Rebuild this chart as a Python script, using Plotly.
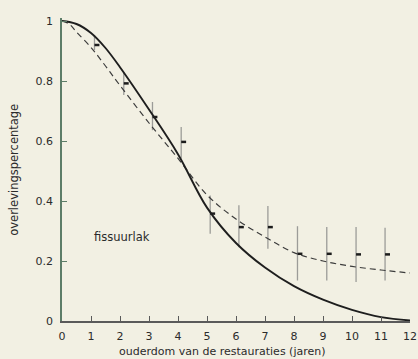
import plotly.graph_objects as go

# ---- data ----
# solid curve (fitted survival curve)
solid_t = [0, 0.5, 1, 1.5, 2, 3, 4, 5, 6, 7, 8, 9, 10, 11, 12]
solid_s = [1.0, 0.99, 0.96, 0.91, 0.846, 0.705, 0.556, 0.378, 0.26, 0.178, 0.116, 0.071, 0.037, 0.013, 0.002]

# dashed curve
dashed_t = [0, 0.25, 0.5, 1, 1.5, 2, 3, 4, 5, 6, 7, 8, 9, 10, 11, 12]
dashed_s = [1.0, 0.99, 0.963, 0.912, 0.85, 0.785, 0.66, 0.542, 0.42, 0.34, 0.28, 0.228, 0.2, 0.182, 0.17, 0.16]

# observed points with ranges
bar_x = [1.12, 2.13, 3.12, 4.11, 5.11, 6.1, 7.1, 8.12, 9.13, 10.14, 11.14]
bar_y = [0.92, 0.792, 0.68, 0.597, 0.358, 0.313, 0.313, 0.224, 0.224, 0.222, 0.222]
bar_hi = [0.953, 0.828, 0.73, 0.647, 0.418, 0.386, 0.383, 0.316, 0.313, 0.313, 0.311]
bar_lo = [0.903, 0.753, 0.636, 0.542, 0.291, 0.246, 0.241, 0.135, 0.135, 0.13, 0.135]

x_ticks = list(range(0, 13))
y_ticks = [0, 0.2, 0.4, 0.6, 0.8, 1]
y_ticktext = ["0", "0.2", "0.4", "0.6", "0.8", "1"]

series_label = "fissuurlak"
x_title = "ouderdom van de restauraties (jaren)"
y_title = "overlevingspercentage"

# ---- styles ----
BG = "#f2f0e3"
FONT = "DejaVu Sans"
TXT = "#2b2b2b"
DASH_LEN = 0.17

fig = go.Figure()

fig.add_trace(go.Scatter(
    x=bar_x, y=bar_y, mode="markers",
    marker=dict(size=1, opacity=0),
    error_y=dict(type="data", symmetric=False,
                 array=[h - y for h, y in zip(bar_hi, bar_y)],
                 arrayminus=[y - l for l, y in zip(bar_lo, bar_y)],
                 color="#9c9c98", thickness=1.3, width=0),
    error_x=dict(type="data", symmetric=False,
                 array=[DASH_LEN] * len(bar_x),
                 arrayminus=[0] * len(bar_x),
                 color="#1c1c1c", thickness=2.5, width=0),
    hoverinfo="skip", showlegend=False,
))

fig.add_trace(go.Scatter(
    x=dashed_t, y=dashed_s, mode="lines",
    line=dict(color="#3c3c3c", width=1.2, dash="6px,4px", shape="spline", smoothing=1.0),
    showlegend=False,
))

fig.add_trace(go.Scatter(
    x=solid_t, y=solid_s, mode="lines",
    line=dict(color="#1e1e1e", width=1.9, shape="spline", smoothing=1.0),
    showlegend=False,
))

fig.update_layout(
    width=418, height=359,
    margin=dict(l=62, r=1, t=18, b=38),
    paper_bgcolor=BG, plot_bgcolor=BG,
    font=dict(family=FONT, size=11, color=TXT),
    xaxis=dict(range=[0, 12], tickvals=x_ticks, ticks="inside", ticklen=5,
               tickcolor="#5a5a5a", showline=True, linecolor="#5a5a5a", linewidth=1.5,
               showgrid=False, zeroline=False, ticklabelstandoff=4,
               ticklabeloverflow="allow",
               tickfont=dict(family=FONT, size=11, color=TXT)),
    yaxis=dict(range=[0, 1.01], tickvals=y_ticks, ticktext=y_ticktext, ticks="inside",
               ticklen=5, tickcolor="#5d7d68", showline=True, linecolor="#5d7d68",
               linewidth=1.5, showgrid=False, zeroline=False, ticklabelstandoff=5,
               tickfont=dict(family=FONT, size=11, color=TXT)),
    annotations=[
        dict(text=series_label, x=2.06, y=0.28, xref="x", yref="y",
             showarrow=False, font=dict(family=FONT, size=11.5, color=TXT)),
        dict(text=x_title, x=0.462, y=-0.102, xref="paper", yref="paper",
             xanchor="center", yanchor="middle", showarrow=False,
             font=dict(family=FONT, size=11, color=TXT)),
        dict(text=y_title, x=-0.14, y=0.5, xref="paper", yref="paper",
             xanchor="center", yanchor="middle", textangle=-90, showarrow=False,
             font=dict(family=FONT, size=11.5, color=TXT)),
    ],
)

fig.write_html("out.html", config={"displayModeBar": False},
               post_script="document.body.style.margin='0';document.body.style.overflow='hidden';")
